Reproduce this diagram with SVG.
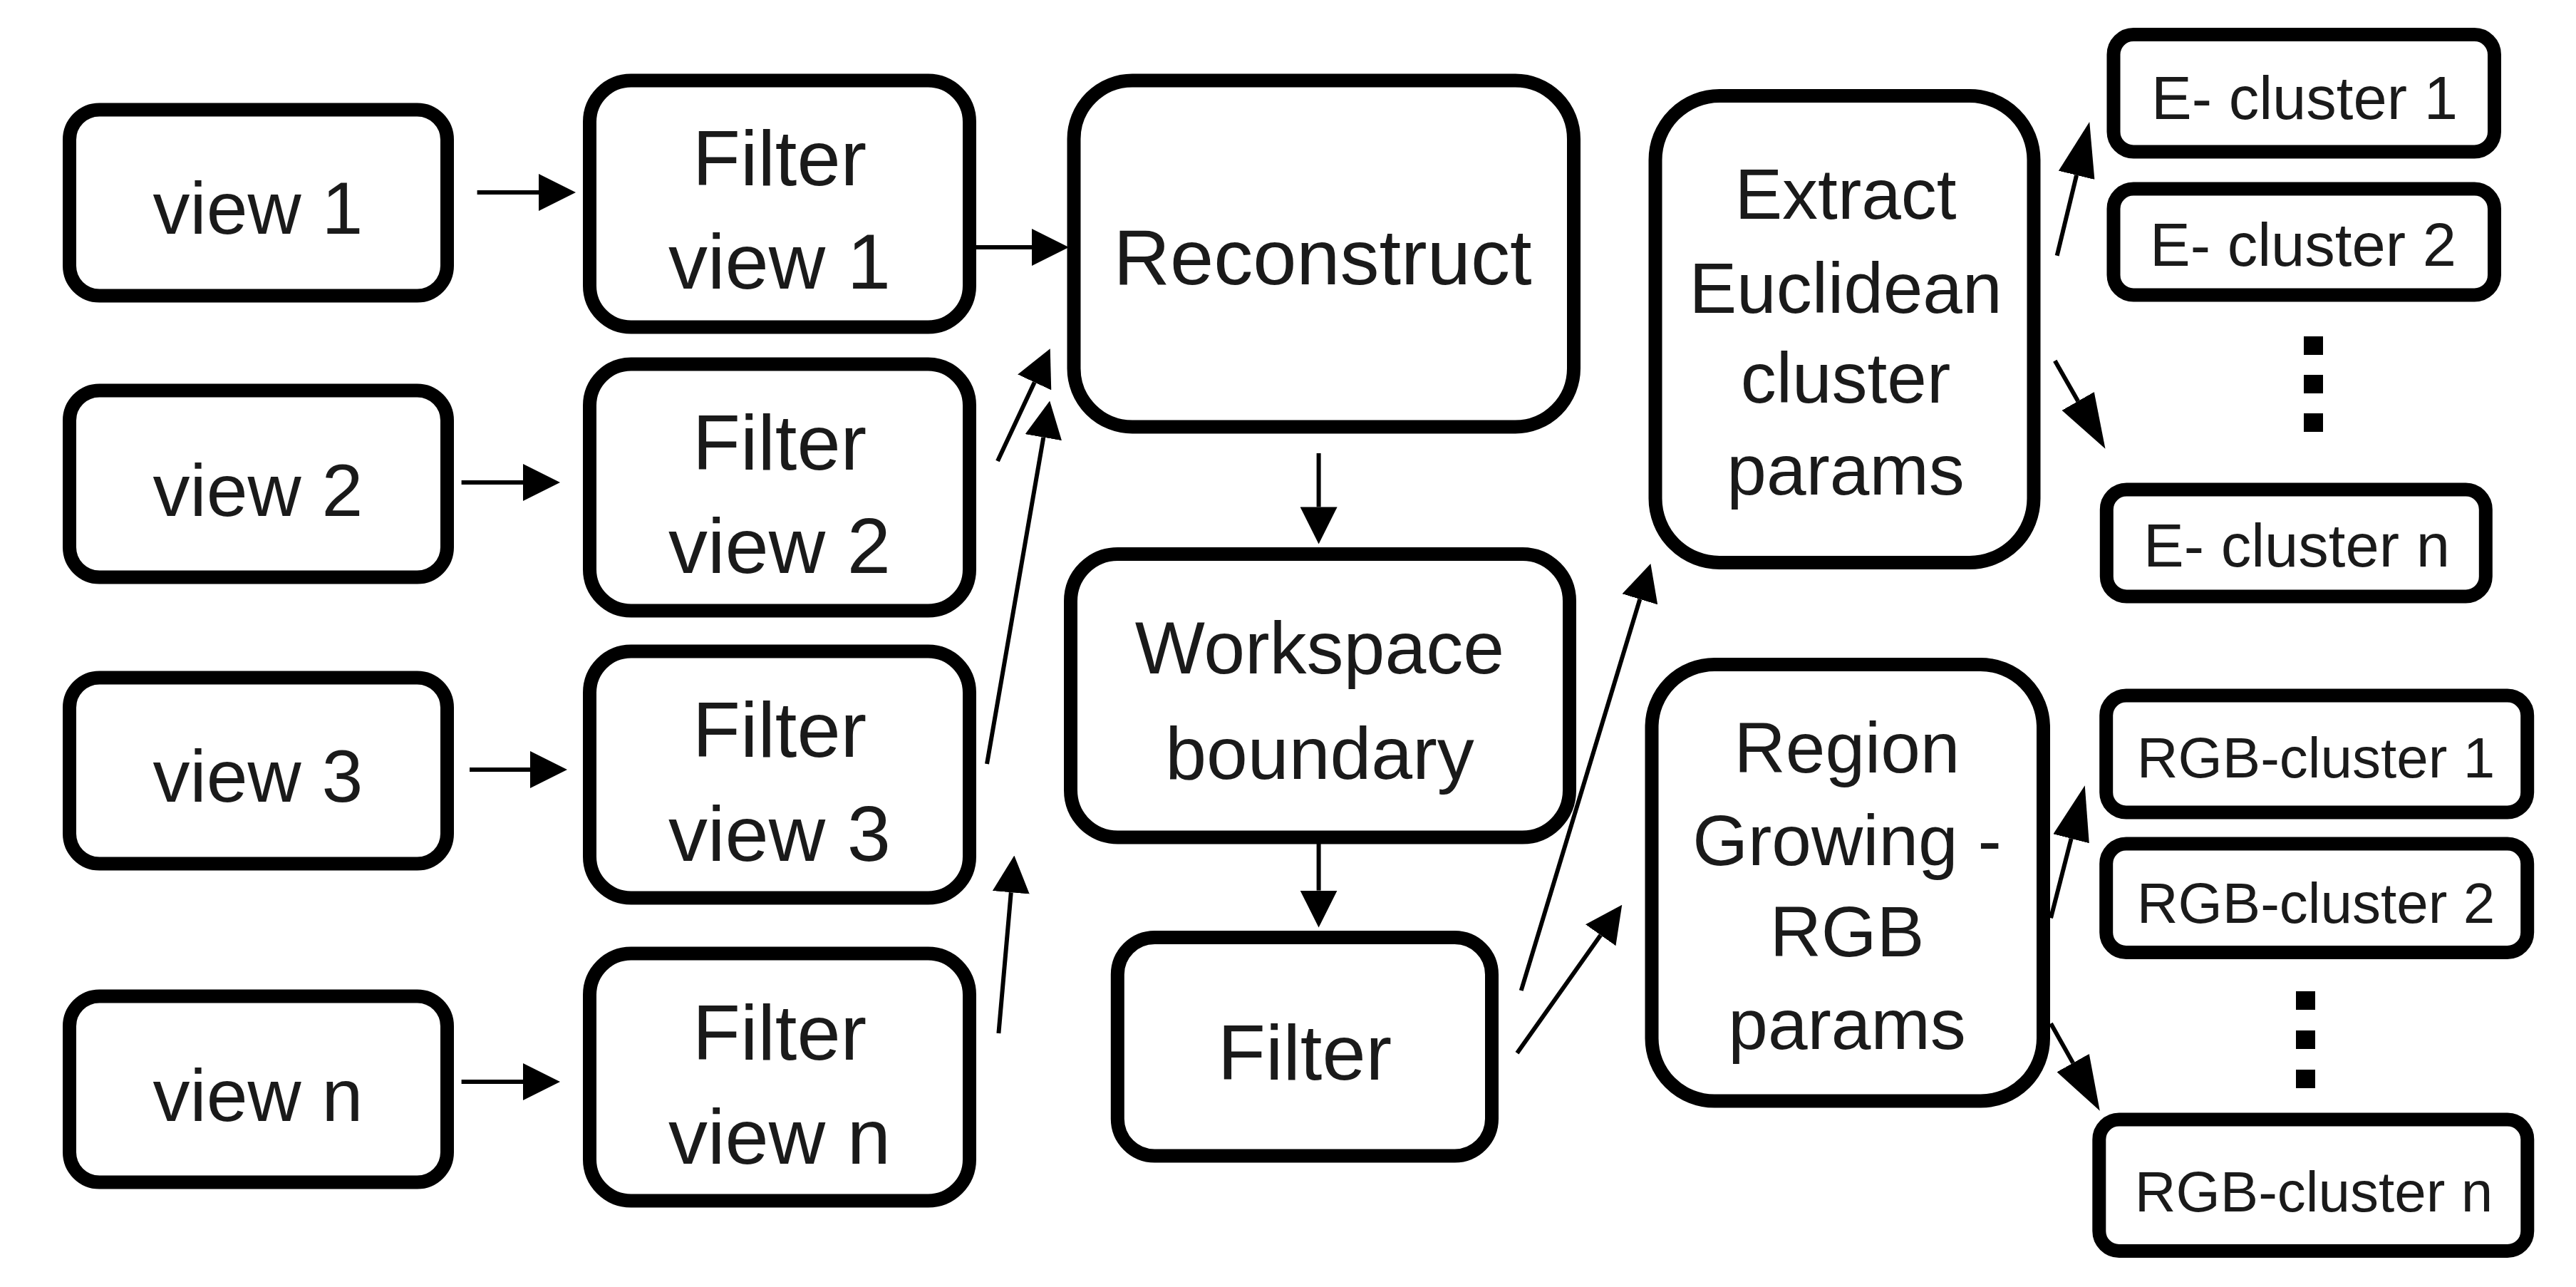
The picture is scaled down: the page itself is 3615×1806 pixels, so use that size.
<svg xmlns="http://www.w3.org/2000/svg" width="3615" height="1806" viewBox="0 0 3615 1806">
<style>
.box{fill:#fff;stroke:#000;stroke-width:19}
.t{font-family:"Liberation Sans",Arial,sans-serif;fill:#1a1a1a;text-anchor:middle}
.f108{font-size:104px}
.f110{font-size:110px}
.f100{font-size:100px}
.f85{font-size:85px}
.f80{font-size:80px}
.c{stroke:#000;stroke-width:6;fill:none}
.a{marker-end:url(#head)}
.al{marker-end:url(#headL)}
.dot{fill:#000}
</style>
<defs>
<marker id="head" viewBox="0 0 52 52" refX="0" refY="26" markerWidth="52" markerHeight="52" markerUnits="userSpaceOnUse" orient="auto">
<path d="M0,0 L52,26 L0,52 Z" fill="#000"/>
</marker>
<marker id="headL" viewBox="0 0 77 52" refX="0" refY="26" markerWidth="77" markerHeight="52" markerUnits="userSpaceOnUse" orient="auto">
<path d="M0,0 L77,26 L0,52 Z" fill="#000"/>
</marker>
</defs>
<rect width="3615" height="1806" fill="#fff"/>

<g id="view1"><rect class="box" x="97.5" y="154" width="530" height="261" rx="42"/><text class="t f108" x="362" y="328">view 1</text></g>
<g id="view2"><rect class="box" x="97.5" y="548" width="530" height="262" rx="42"/><text class="t f108" x="362" y="724">view 2</text></g>
<g id="view3"><rect class="box" x="97.5" y="951" width="530" height="261" rx="42"/><text class="t f108" x="362" y="1125">view 3</text></g>
<g id="viewN"><rect class="box" x="97.5" y="1398" width="530" height="261" rx="42"/><text class="t f108" x="362" y="1573">view n</text></g>

<g id="filterView1"><rect class="box" x="827.5" y="113" width="533" height="346" rx="58"/><text class="t f110" x="1094" y="259.5">Filter</text><text class="t f110" x="1094" y="404.7">view 1</text></g>
<g id="filterView2"><rect class="box" x="827.5" y="511" width="533" height="346" rx="58"/><text class="t f110" x="1094" y="659">Filter</text><text class="t f110" x="1094" y="803.6">view 2</text></g>
<g id="filterView3"><rect class="box" x="827.5" y="914" width="533" height="346" rx="58"/><text class="t f110" x="1094" y="1062">Filter</text><text class="t f110" x="1094" y="1208">view 3</text></g>
<g id="filterViewN"><rect class="box" x="827.5" y="1338" width="533" height="347" rx="58"/><text class="t f110" x="1094" y="1486.5">Filter</text><text class="t f110" x="1094" y="1632.6">view n</text></g>

<g id="reconstruct"><rect class="box" x="1507" y="113" width="701.5" height="486" rx="82"/><text class="t f110" x="1856" y="399">Reconstruct</text></g>
<g id="workspace"><rect class="box" x="1502.5" y="777.5" width="700" height="397.5" rx="66"/><text class="t f108" x="1852" y="945">Workspace</text><text class="t f108" x="1852" y="1093">boundary</text></g>
<g id="filter"><rect class="box" x="1568.3" y="1315.5" width="525.2" height="306.5" rx="52"/><text class="t f110" x="1831" y="1515">Filter</text></g>

<g id="extract"><rect class="box" x="2323" y="134.5" width="531" height="655" rx="90"/>
<text class="t f100" x="2590" y="307">Extract</text><text class="t f100" x="2590" y="439">Euclidean</text><text class="t f100" x="2590" y="565">cluster</text><text class="t f100" x="2590" y="694">params</text></g>
<g id="region"><rect class="box" x="2318" y="932.5" width="549.5" height="612.6" rx="88"/>
<text class="t f100" x="2592" y="1084">Region</text><text class="t f100" x="2592" y="1214">Growing -</text><text class="t f100" x="2592" y="1342">RGB</text><text class="t f100" x="2592" y="1472">params</text></g>

<g id="eCluster1"><rect class="box" x="2966" y="48.5" width="534.5" height="164.5" rx="28"/><text class="t f85" x="3234" y="166.5">E- cluster 1</text></g>
<g id="eCluster2"><rect class="box" x="2966" y="265" width="534.5" height="149" rx="28"/><text class="t f85" x="3232" y="373">E- cluster 2</text></g>
<g id="eDots"><rect class="dot" x="3233" y="472" width="27" height="26"/><rect class="dot" x="3233" y="526" width="27" height="26"/><rect class="dot" x="3233" y="580" width="27" height="26"/></g>
<g id="eClusterN"><rect class="box" x="2956.3" y="687" width="532" height="150" rx="28"/><text class="t f85" x="3223" y="795">E- cluster n</text></g>

<g id="rgbCluster1"><rect class="box" x="2955.7" y="976" width="591" height="164" rx="28"/><text class="t f80" x="3250" y="1091">RGB-cluster 1</text></g>
<g id="rgbCluster2"><rect class="box" x="2955.7" y="1184" width="591" height="152.5" rx="28"/><text class="t f80" x="3250" y="1295">RGB-cluster 2</text></g>
<g id="rgbDots"><rect class="dot" x="3222" y="1391" width="27" height="26"/><rect class="dot" x="3222" y="1446" width="27" height="26"/><rect class="dot" x="3222" y="1501" width="27" height="26"/></g>
<g id="rgbClusterN"><rect class="box" x="2945.8" y="1571" width="601" height="184.4" rx="28"/><text class="t f80" x="3247" y="1700">RGB-cluster n</text></g>

<g id="connectors">
<line class="c a" x1="669.6" y1="270" x2="756" y2="270"/>
<line class="c a" x1="647.6" y1="677" x2="734" y2="677"/>
<line class="c a" x1="659" y1="1080" x2="744" y2="1080"/>
<line class="c a" x1="647.6" y1="1518" x2="734" y2="1518"/>
<line class="c a" x1="1370" y1="347" x2="1448" y2="347"/>
<line class="c a" x1="1400" y1="647" x2="1451.7" y2="536.4"/>
<line class="c a" x1="1385" y1="1072" x2="1464.3" y2="613.7"/>
<line class="c a" x1="1401.4" y1="1450" x2="1418.8" y2="1252.3"/>
<line class="c a" x1="1850.6" y1="636" x2="1850.6" y2="711.4"/>
<line class="c a" x1="1850.6" y1="1184" x2="1850.6" y2="1249.6"/>
<line class="c a" x1="2134.7" y1="1390" x2="2301.3" y2="840.8"/>
<line class="c a" x1="2129" y1="1477.8" x2="2246.2" y2="1312.2"/>
<line class="c al" x1="2886.7" y1="358.8" x2="2914.1" y2="245.8"/>
<line class="c al" x1="2883.8" y1="506.3" x2="2916.2" y2="562.9"/>
<line class="c al" x1="2878" y1="1288.3" x2="2906.6" y2="1176.8"/>
<line class="c al" x1="2878" y1="1436.2" x2="2909.1" y2="1491.6"/>
</g>
</svg>
